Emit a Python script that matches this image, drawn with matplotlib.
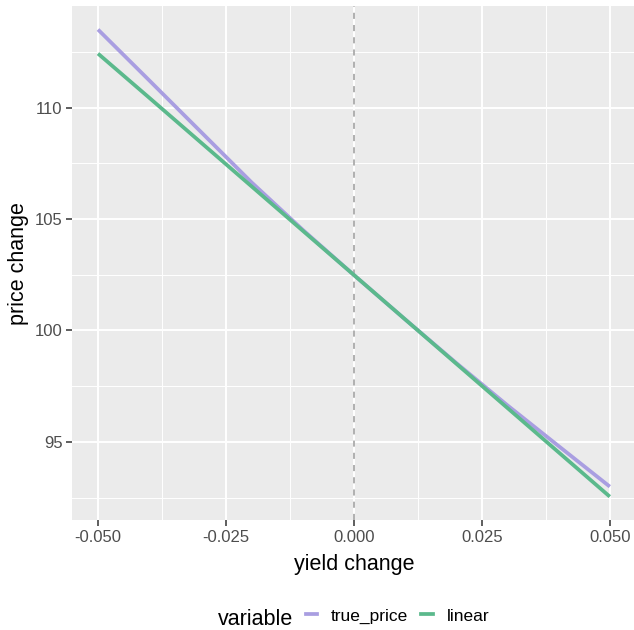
import matplotlib
matplotlib.use('Agg')
import matplotlib.pyplot as plt
from matplotlib.lines import Line2D
from matplotlib.ticker import MultipleLocator

# data
yield_change = [-0.05, -0.04, -0.03, -0.02, -0.01, 0.0, 0.01, 0.02, 0.03, 0.04, 0.05]
true_price = [113.51, 111.23, 108.94, 106.65, 104.52, 102.49, 100.50, 98.54, 96.64, 94.81, 92.99]
linear = [112.43, 110.45, 108.46, 106.47, 104.48, 102.49, 100.50, 98.51, 96.52, 94.53, 92.54]
x_ticks = [-0.05, -0.025, 0.0, 0.025, 0.05]
x_labels = ['-0.050', '-0.025', '0.000', '0.025', '0.050']
y_ticks = [95, 100, 105, 110]

plt.rcParams['font.family'] = ['Liberation Sans', 'DejaVu Sans']

fig = plt.figure(figsize=(6.34, 6.30), dpi=100)
ax = fig.add_axes([0.1142, 0.1746, 0.888, 0.8156])
ax.set_facecolor('#EBEBEB')
for s in ax.spines.values():
    s.set_visible(False)

ax.xaxis.set_minor_locator(MultipleLocator(0.0125))
ax.yaxis.set_minor_locator(MultipleLocator(2.5))
ax.grid(True, which='major', color='white', linewidth=1.4)
ax.grid(True, which='minor', color='white', linewidth=0.7)
ax.set_axisbelow(True)

ax.axvline(0, color='#9a9a9a', linestyle=(0, (4, 4)), linewidth=1.1)

c_true = '#a99ee1'
c_lin = '#5bb98c'
ax.plot(yield_change, true_price, color=c_true, linewidth=2.7, solid_capstyle='butt')
ax.plot(yield_change, linear, color=c_lin, linewidth=2.7, solid_capstyle='butt')

xpad = 0.1 * 0.05
ax.set_xlim(-0.05 - xpad, 0.05 + xpad)
lo, hi = min(linear + true_price), max(linear + true_price)
ypad = (hi - lo) * 0.05
ax.set_ylim(lo - ypad, hi + ypad)

ax.set_xticks(x_ticks)
ax.set_xticklabels(x_labels)
ax.set_yticks(y_ticks)
ax.tick_params(which='major', length=4, width=1.1, color='#333333',
               labelcolor='#4d4d4d', labelsize=12, pad=3)
ax.tick_params(which='minor', length=0)

ax.set_xlabel('yield change', fontsize=15.5, labelpad=7)
ax.set_ylabel('price change', fontsize=15.5, labelpad=4)

# legend at the bottom, title to the left of the keys
fig.text(218 / 634, 5 / 630, 'variable', fontsize=15.5, va='baseline', ha='left')
handles = [Line2D([], [], color=c_true, linewidth=2.7),
           Line2D([], [], color=c_lin, linewidth=2.7)]
fig.legend(handles, ['true_price', 'linear'], loc='center left',
           bbox_to_anchor=(306 / 634, 14 / 630), ncol=2, frameon=False,
           fontsize=12.5, handlelength=0.65, handletextpad=0.8,
           columnspacing=0.75, borderpad=0, borderaxespad=0)

fig.savefig('out.png', dpi=100)
